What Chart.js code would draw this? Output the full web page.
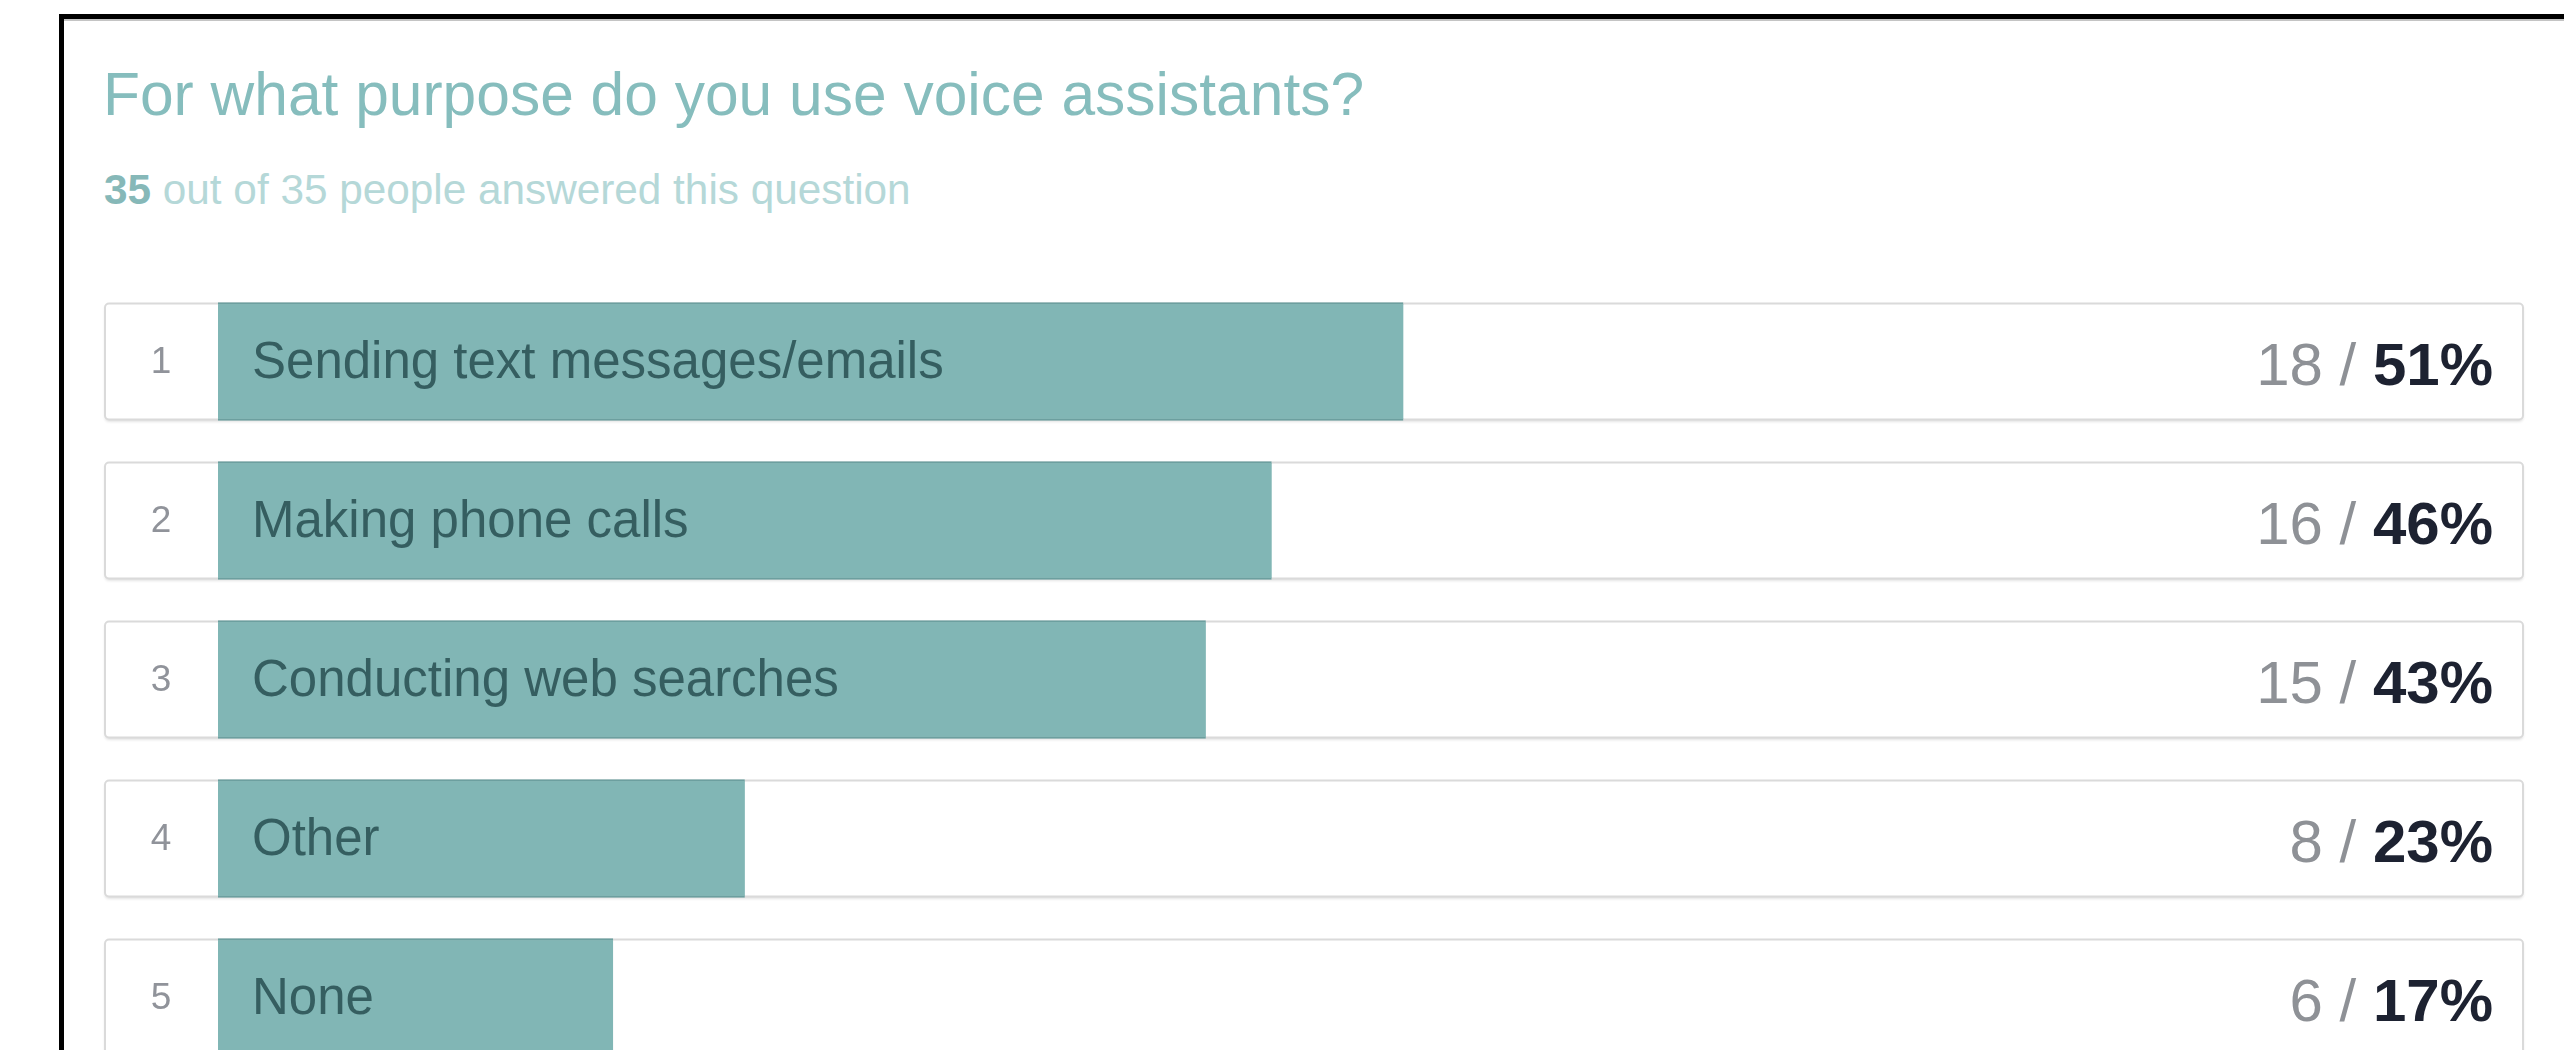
<!DOCTYPE html>
<html>
<head>
<meta charset="utf-8">
<title>Voice assistants survey</title>
<script src="https://cdn.jsdelivr.net/npm/chart.js@4"></script>
<style>
    html, body { margin: 0; padding: 0; background: #fff; overflow: hidden; }
    body { width: 2564px; height: 1050px; position: relative; font-family: "Liberation Sans", Arial, Helvetica, sans-serif; }
    .frame {
        position: absolute; left: 59px; top: 14px; width: 3000px; height: 2000px;
        border-top: 5px solid #000; border-left: 5px solid #000;
        box-shadow: inset 0 2px 0 #c4c4c4;
    }
    .q-title { position: absolute; left: 103px; top: 64px; font-size: 60.5px; line-height: 60px; color: #86bdbd; white-space: nowrap; }
    .q-sub { position: absolute; left: 104px; top: 169px; font-size: 42.3px; line-height: 42px; color: #b5d8d8; white-space: nowrap; }
    .q-sub strong { color: #86b8b8; }
    #chart { position: absolute; left: 0; top: 0; }
</style>
</head>
<body>
<div class="frame"></div>
<div class="q-title" id="qTitle"></div>
<div class="q-sub" id="qSub"></div>
<canvas id="chart" width="2564" height="1100"></canvas>

<script>
// ===== Data =====
const questionTitle = "For what purpose do you use voice assistants?";
const answeredCount = 35;
const totalPeople = 35;

const rankLabels = ["1", "2", "3", "4", "5"];
const categories = ["Sending text messages/emails", "Making phone calls", "Conducting web searches", "Other", "None"];
const counts = [18, 16, 15, 8, 6];
const percents = [51, 46, 43, 23, 17];

document.getElementById("qTitle").textContent = questionTitle;
document.getElementById("qSub").innerHTML = `<strong>${answeredCount}</strong> out of ${totalPeople} people answered this question`;

const FONT = '"Liberation Sans", Arial, Helvetica, sans-serif';

// white rounded row boxes behind the bars, then rank / label / value text on top
const rowsPlugin = {
    id: "rows",
    beforeDatasetsDraw(chart) {
        const { ctx, chartArea } = chart;
        const meta = chart.getDatasetMeta(0);
        ctx.save();
        meta.data.forEach(bar => {
            const half = bar.height / 2;
            const x0 = chartArea.left - 113, x1 = chartArea.right;
            const y0 = bar.y - half + 1, y1 = bar.y + half - 1;
            ctx.beginPath();
            ctx.roundRect(x0, y0, x1 - x0, y1 - y0, 4);
            ctx.shadowColor = "rgba(0,0,0,0.14)";
            ctx.shadowBlur = 3;
            ctx.shadowOffsetY = 2;
            ctx.fillStyle = "#fff";
            ctx.fill();
            ctx.shadowColor = "transparent";
            ctx.lineWidth = 2;
            ctx.strokeStyle = "#dadada";
            ctx.stroke();
        });
        ctx.restore();
    },
    afterDatasetsDraw(chart) {
        const { ctx, chartArea } = chart;
        const meta = chart.getDatasetMeta(0);
        ctx.save();
        meta.data.forEach((bar, i) => {
            const cy = bar.y;

            // rank number
            ctx.font = `37px ${FONT}`;
            ctx.fillStyle = "#90939a";
            ctx.textAlign = "center";
            ctx.textBaseline = "alphabetic";
            ctx.fillText(rankLabels[i], chartArea.left - 57, cy + 11);

            // answer label inside the bar
            ctx.font = `51px ${FONT}`;
            ctx.fillStyle = "#355e60";
            ctx.textAlign = "left";
            ctx.fillText(categories[i], chartArea.left + 34, cy + 16);

            // "n / pct%" on the right
            const right = chartArea.right - 30;
            ctx.textAlign = "right";
            ctx.font = `bold 60px ${FONT}`;
            ctx.fillStyle = "#1d2231";
            const pctText = percents[i] + "%";
            ctx.fillText(pctText, right, cy + 23);
            const pctW = ctx.measureText(pctText).width;
            ctx.font = `60px ${FONT}`;
            ctx.fillStyle = "#8e9196";
            ctx.fillText(counts[i] + " / ", right - pctW, cy + 23);
        });
        ctx.restore();
    }
};

new Chart(document.getElementById("chart"), {
    type: "bar",
    data: {
        labels: categories,
        datasets: [{
            label: "Answers",
            data: counts,
            backgroundColor: "#81b6b5",
            borderColor: "#6c9f9f",
            borderWidth: { top: 2, bottom: 2, left: 0, right: 0 },
            borderSkipped: false,
            barThickness: 118
        }]
    },
    options: {
        indexAxis: "y",
        responsive: false,
        devicePixelRatio: 1,
        animation: false,
        layout: { padding: { left: 218, right: 41, top: 282, bottom: 23 } },
        scales: {
            x: { display: false, min: 0, max: totalPeople },
            y: { display: false }
        },
        plugins: {
            legend: { display: false },
            title: { display: false },
            tooltip: { enabled: false }
        }
    },
    plugins: [rowsPlugin]
});
</script>
</body>
</html>
